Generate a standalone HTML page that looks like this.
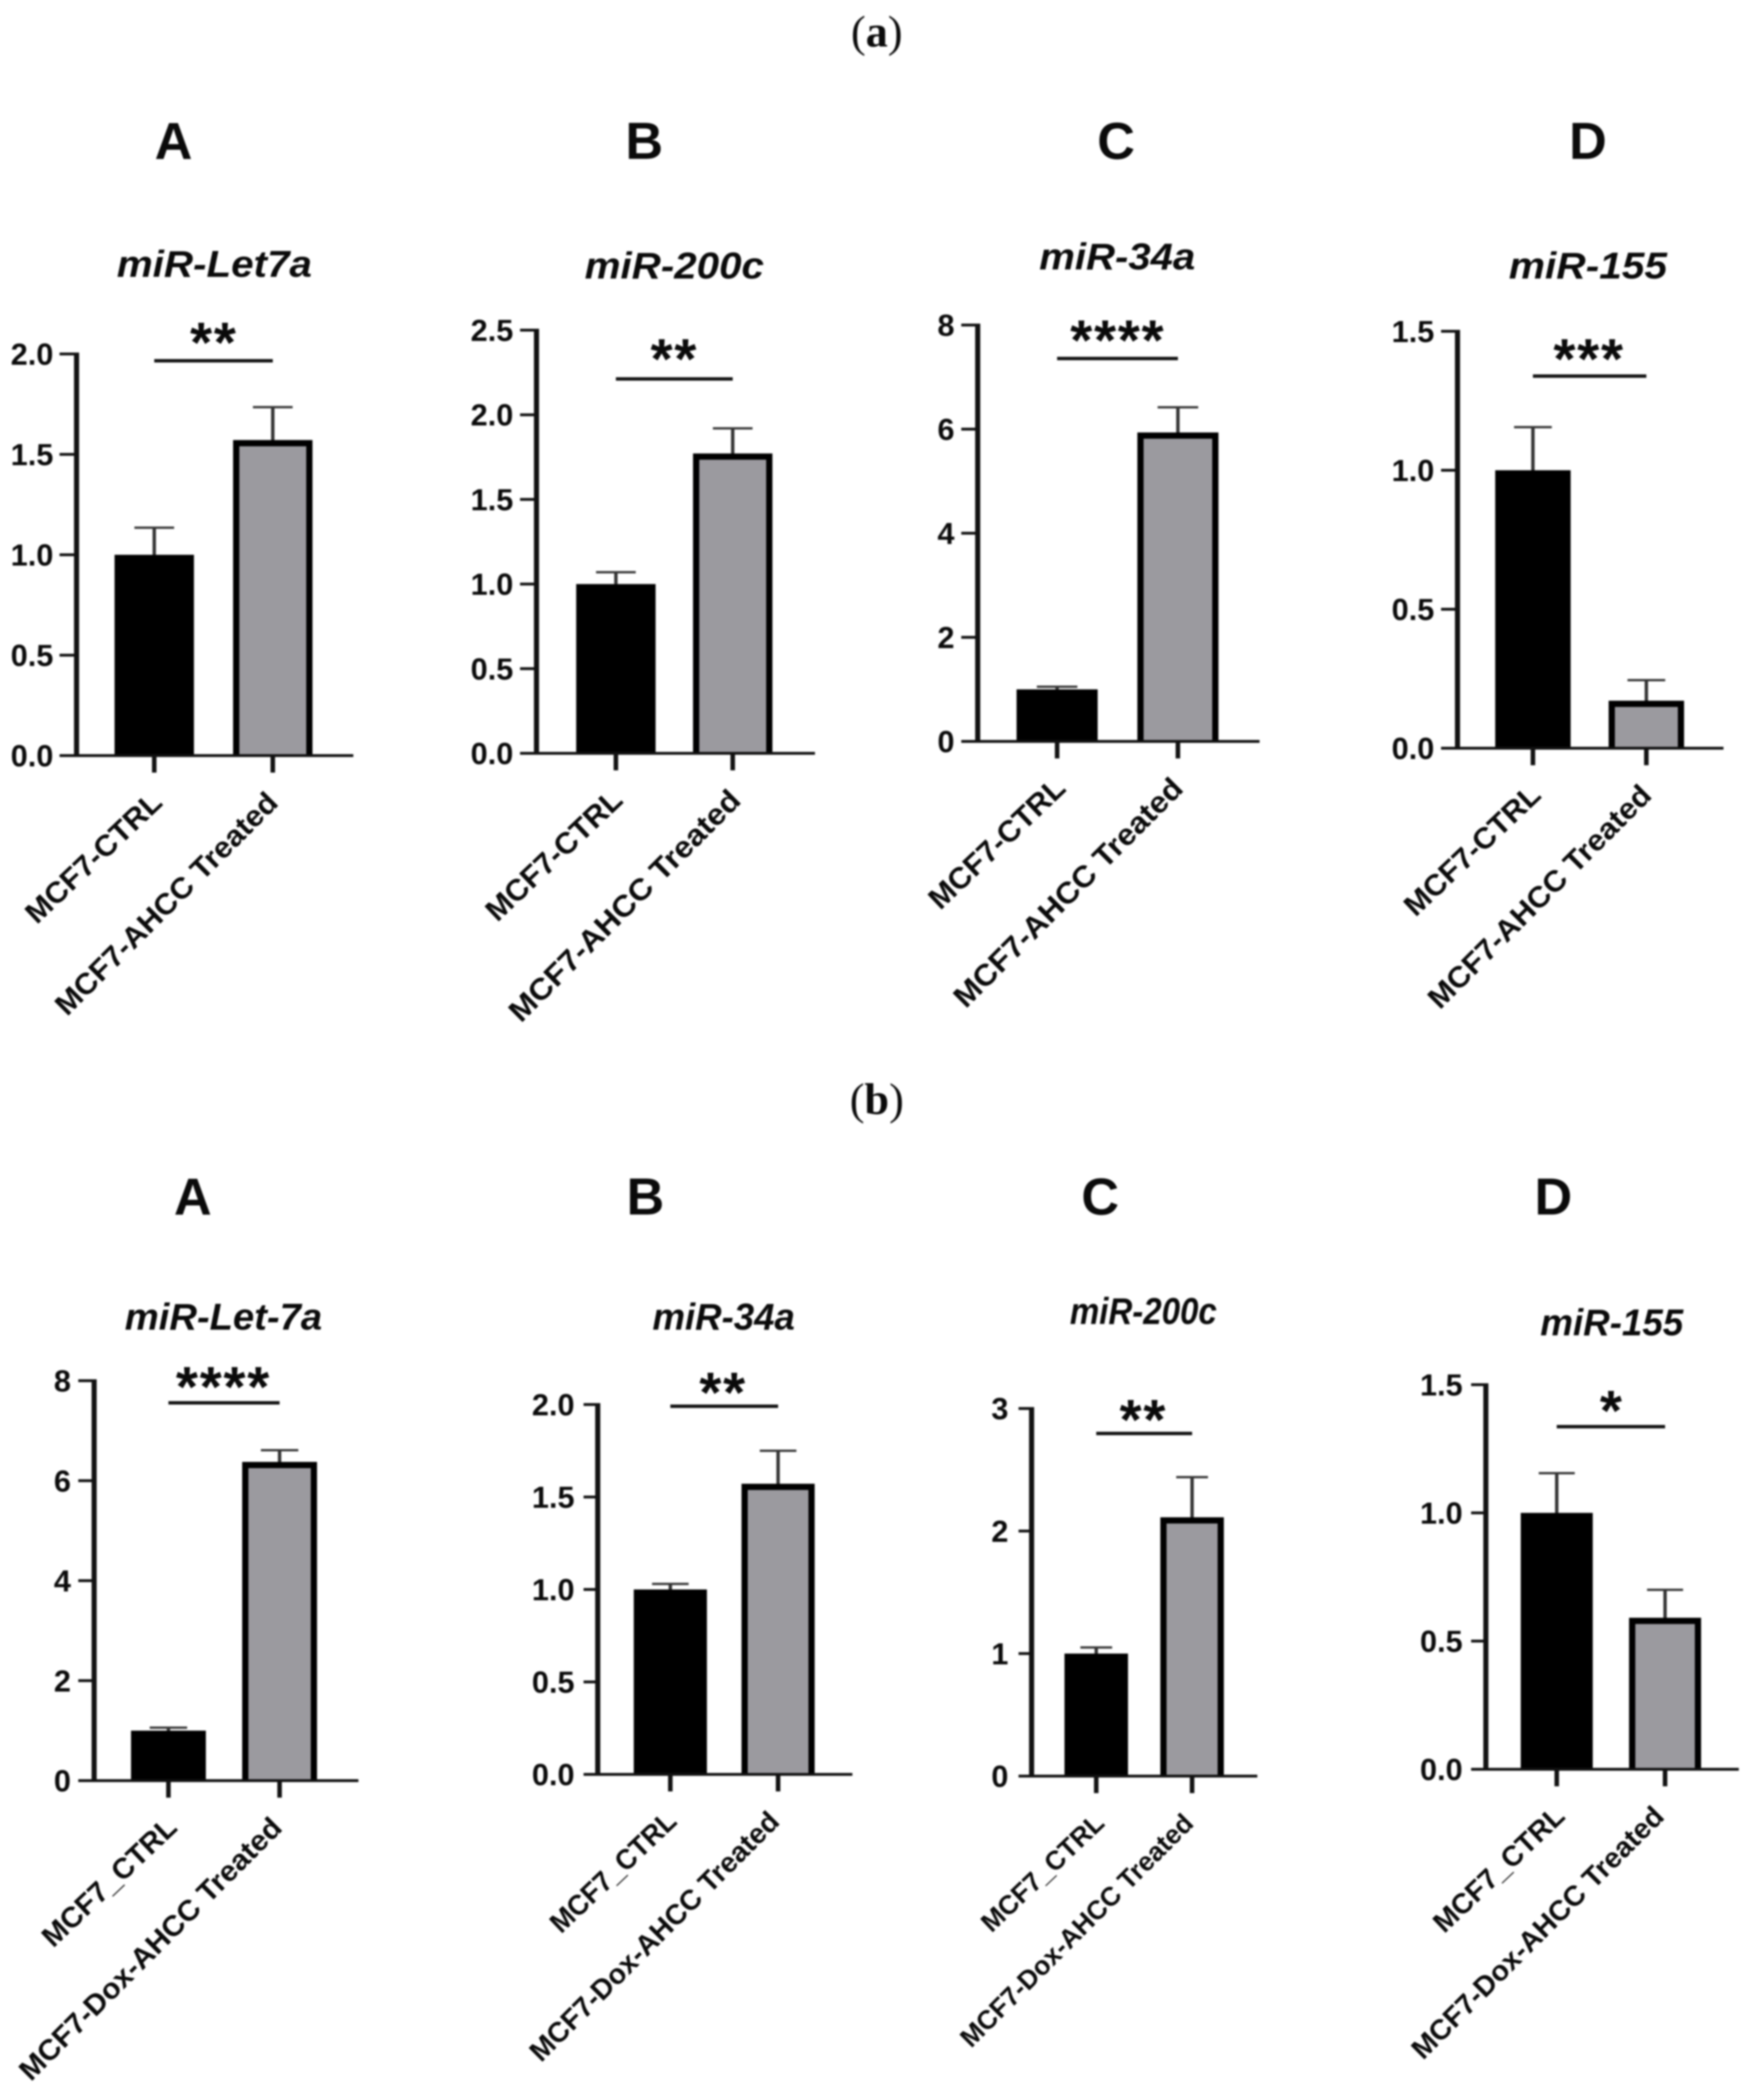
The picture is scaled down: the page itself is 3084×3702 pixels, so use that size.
<!DOCTYPE html>
<html lang="en">
<head>
<meta charset="utf-8">
<title>miRNA expression bar charts</title>
<style>
html,body{margin:0;padding:0;background:#fff;width:3084px;height:3702px;overflow:hidden}
svg{display:block;filter:blur(1.7px)}
text{font-family:"Liberation Sans",sans-serif;font-weight:bold;fill:#0a0a0a}
</style>
</head>
<body>
<svg id="figure" xmlns="http://www.w3.org/2000/svg" width="3084" height="3702" viewBox="0 0 3084 3702">
<rect x="0" y="0" width="3084" height="3702" fill="#ffffff"/>
<text x="1546" y="82" text-anchor="middle" style="font-family:'Liberation Serif',serif;font-size:78px;font-weight:normal">(<tspan font-weight="bold">a</tspan>)</text>
<text x="1546" y="1964" text-anchor="middle" style="font-family:'Liberation Serif',serif;font-size:78px;font-weight:normal">(<tspan font-weight="bold">b</tspan>)</text>
</svg>
<script>
// ---- Chart data, one entry per panel ----
const panelLetters = ['A','B','C','D','A','B','C','D'];
const panelTitles = ['miR-Let7a','miR-200c','miR-34a','miR-155','miR-Let-7a','miR-34a','miR-200c','miR-155'];
const controlCategories = ['MCF7-CTRL','MCF7-CTRL','MCF7-CTRL','MCF7-CTRL','MCF7_CTRL','MCF7_CTRL','MCF7_CTRL','MCF7_CTRL'];
const treatedCategories = ['MCF7-AHCC Treated','MCF7-AHCC Treated','MCF7-AHCC Treated','MCF7-AHCC Treated','MCF7-Dox-AHCC Treated','MCF7-Dox-AHCC Treated','MCF7-Dox-AHCC Treated','MCF7-Dox-AHCC Treated'];
const controlMeans = [1.0,1.0,1.0,1.0,1.0,1.0,1.0,1.0];
const treatedMeans = [1.57,1.77,5.93,0.17,6.37,1.57,2.11,0.59];
const controlErrors = [0.135,0.07,0.05,0.155,0.06,0.03,0.05,0.155];
const treatedErrors = [0.165,0.15,0.49,0.075,0.24,0.18,0.33,0.11];
const significance = ['**','**','****','***','****','**','**','*'];
const yTickLabels = [
  ['0.0','0.5','1.0','1.5','2.0'],
  ['0.0','0.5','1.0','1.5','2.0','2.5'],
  ['0','2','4','6','8'],
  ['0.0','0.5','1.0','1.5'],
  ['0','2','4','6','8'],
  ['0.0','0.5','1.0','1.5','2.0'],
  ['0','1','2','3'],
  ['0.0','0.5','1.0','1.5']
];

// ---- Panel frames: where each panel's axes sit on the page ----
const panelFrames = [
  {axisX:135, tickL:105, top:624, base:1332, end:623, c1:272, c2:481, barW:140, sigY:636, starX:377, starY:591, titleX:378, titleY:488, titleW:344, letterX:306, letterY:280, labelSize:52, labelW:530, controlW:309, cDx:5, tDx:0},
  {axisX:946, tickL:917, top:582, base:1328, end:1437, c1:1086, c2:1292, barW:140, sigY:668, starX:1189, starY:620, titleX:1189, titleY:491, titleW:316, letterX:1136, letterY:280, labelSize:53, labelW:552, controlW:309, cDx:3, tDx:5},
  {axisX:1724, tickL:1695, top:573, base:1307, end:2221, c1:1864, c2:2077, barW:143, sigY:632, starX:1971, starY:587, titleX:1970, titleY:475, titleW:275, letterX:1968, letterY:280, labelSize:53, labelW:546, controlW:309, cDx:6, tDx:0},
  {axisX:2570, tickL:2541, top:584, base:1319, end:3039, c1:2703, c2:2903, barW:133, sigY:663, starX:2802, starY:620, titleX:2800, titleY:491, titleW:279, letterX:2800, letterY:280, labelSize:52, labelW:532, controlW:309, cDx:5, tDx:0},
  {axisX:166, tickL:138, top:2434, base:3139, end:632, c1:297, c2:493, barW:132, sigY:2473, starX:394, starY:2432, titleX:394, titleY:2344, titleW:348, letterX:340, letterY:2141, labelSize:51, labelW:630, controlW:305, cDx:6, tDx:-5},
  {axisX:1054, tickL:1029, top:2476, base:3128, end:1503, c1:1182, c2:1372, barW:129, sigY:2479, starX:1275, starY:2442, titleX:1276, titleY:2344, titleW:251, letterX:1138, letterY:2141, labelSize:50, labelW:598, controlW:285, cDx:2, tDx:-7},
  {axisX:1819, tickL:1796, top:2483, base:3131, end:2217, c1:1933, c2:2102, barW:112, sigY:2527, starX:2016, starY:2490, titleX:2016, titleY:2334, titleW:259, letterX:1940, letterY:2141, labelSize:47, labelW:558, controlW:278, cDx:5, tDx:-7},
  {axisX:2620, tickL:2594, top:2441, base:3119, end:3066, c1:2745, c2:2936, barW:127, sigY:2515, starX:2842, starY:2474, titleX:2842, titleY:2354, titleW:252, letterX:2739, letterY:2141, labelSize:50, labelW:605, controlW:297, cDx:5, tDx:-11}
];

const SVG_NS = 'http://www.w3.org/2000/svg';
const figure = document.getElementById('figure');
function make(parent, tag, attrs, content) {
  const node = document.createElementNS(SVG_NS, tag);
  for (const key in attrs) { node.setAttribute(key, attrs[key]); }
  if (content !== undefined) { node.textContent = content; }
  parent.appendChild(node);
  return node;
}

panelFrames.forEach(function (f, p) {
  const ticks = yTickLabels[p];
  const tickValues = ticks.map(Number);
  const yMax = tickValues[tickValues.length - 1];
  const yScale = function (v) { return f.base - (v / yMax) * (f.base - f.top); };
  const xScale = function (i) { return f.c1 + i * (f.c2 - f.c1); };
  const ink = '#111111';

  const g = make(figure, 'g', {});
  
  

  const letter = make(g, 'text', {x: f.letterX, y: f.letterY, 'text-anchor': 'middle', 'font-size': 92}, panelLetters[p]);
  
  

  const title = make(g, 'text', {x: f.titleX, y: f.titleY, 'text-anchor': 'middle', 'font-size': 66, 'font-style': 'italic', textLength: f.titleW, lengthAdjust: 'spacingAndGlyphs'}, panelTitles[p]);
  
  

  // Bars
  const means = [controlMeans[p], treatedMeans[p]];
  const errors = [controlErrors[p], treatedErrors[p]];
  means.forEach(function (m, i) {
    const cx = xScale(i);
    const topY = yScale(m);
    const errY = yScale(m + errors[i]);

    const stem = make(g, 'line', {x1: cx, x2: cx, y1: topY, y2: errY, stroke: '#333333', 'stroke-width': 6});
    
    

    const cap = make(g, 'line', {x1: cx - f.barW * 0.25, x2: cx + f.barW * 0.25, y1: errY, y2: errY, stroke: '#333333', 'stroke-width': 4});
    
    

    if (i === 0) {
      const bar = make(g, 'rect', {x: cx - f.barW / 2, y: topY, width: f.barW, height: Math.max(0, f.base - topY), fill: '#000000'});
      
      
    } else {
      const left = cx - f.barW / 2 + 5.5;
      const right = cx + f.barW / 2 - 5.5;
      const innerTop = topY + 5;
      const bar = make(g, 'path', {
        d: 'M' + left + ' ' + f.base + 'L' + left + ' ' + innerTop + 'L' + right + ' ' + innerTop + 'L' + right + ' ' + f.base,
        fill: '#9b9a9f',
        stroke: '#000000',
        'stroke-width': 11
      });
      
      
    }

    const xTick = make(g, 'line', {x1: cx, x2: cx, y1: f.base, y2: f.base + 30, stroke: ink, 'stroke-width': 8});
    
    

    const ax = cx + 12 + (i === 0 ? f.cDx : f.tDx);
    const ay = f.base + 86;
    const label = make(g, 'text', {
      x: ax,
      y: ay,
      'text-anchor': 'end',
      'font-size': f.labelSize,
      textLength: i === 0 ? f.controlW : f.labelW,
      lengthAdjust: 'spacingAndGlyphs',
      transform: 'rotate(' + (i === 0 ? -43.5 : -45) + ' ' + ax + ' ' + ay + ')'
    }, i === 0 ? controlCategories[p] : treatedCategories[p]);
    
    
  });

  // Axes
  const yAxis = make(g, 'line', {x1: f.axisX, x2: f.axisX, y1: f.top - 2.5, y2: f.base + 2.5, stroke: ink, 'stroke-width': 9});
  
  

  const xAxis = make(g, 'line', {x1: f.tickL, x2: f.end, y1: f.base, y2: f.base, stroke: ink, 'stroke-width': 5});
  
  

  ticks.forEach(function (labelText, t) {
    const y = yScale(tickValues[t]);
    const tick = make(g, 'line', {x1: f.tickL, x2: f.axisX, y1: y, y2: y, stroke: ink, 'stroke-width': 5});
    
    

    const tickText = make(g, 'text', {x: f.axisX - 41, y: y + 19, 'text-anchor': 'end', 'font-size': 54}, labelText);
    
    
  });

  // Significance bracket
  const sigLine = make(g, 'line', {x1: f.c1, x2: f.c2, y1: f.sigY, y2: f.sigY, stroke: ink, 'stroke-width': 6});
  
  

  const stars = make(g, 'text', {x: f.starX, y: f.starY + 47, 'text-anchor': 'middle', 'font-size': 100, 'letter-spacing': 3}, significance[p]);
  
  
});
</script>
</body>
</html>
